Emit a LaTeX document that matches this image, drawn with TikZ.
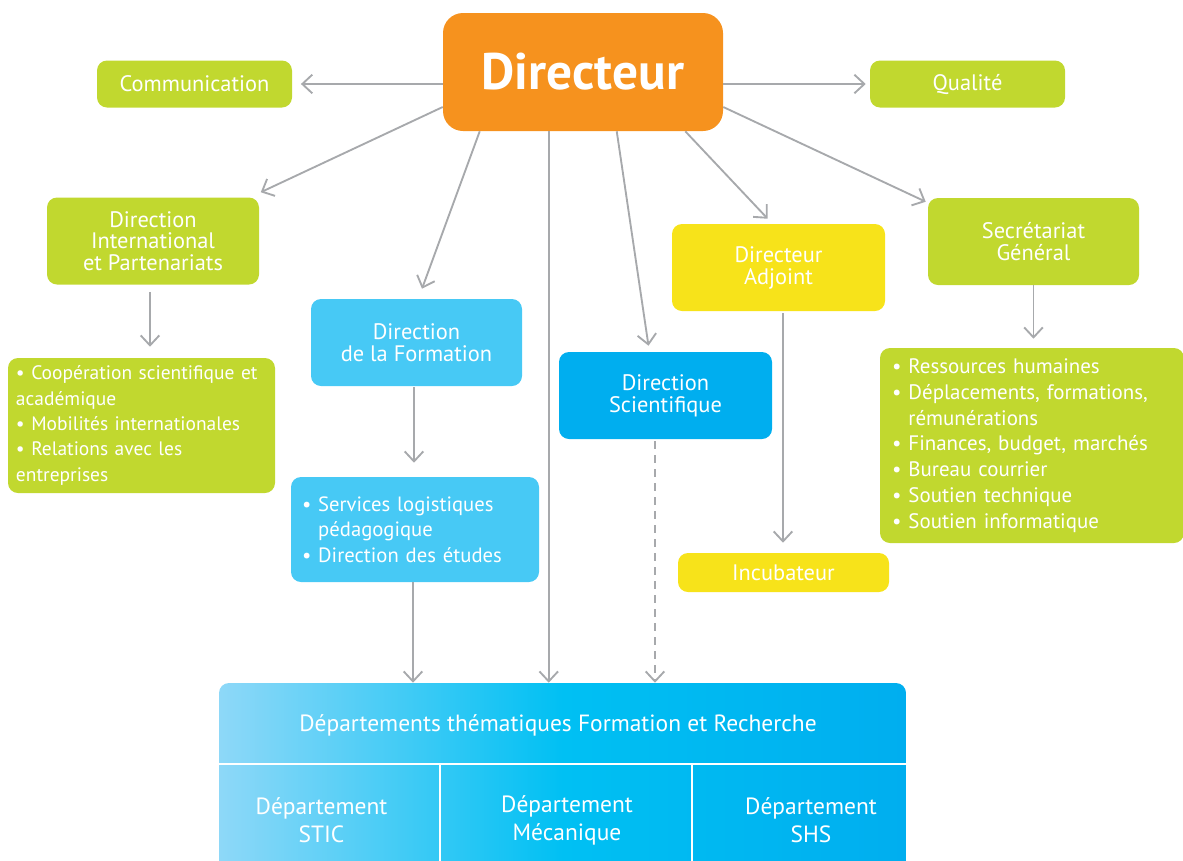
\documentclass[tikz,border=0pt]{standalone}
\usepackage{fontspec}
\setmainfont{PT Sans}
\usetikzlibrary{arrows.meta,calc}
\definecolor{cOrange}{HTML}{F6921E}
\definecolor{cGreen}{HTML}{C1D82F}
\definecolor{cLBlue}{HTML}{47C9F5}
\definecolor{cBlue}{HTML}{00AEEF}
\definecolor{cYellow}{HTML}{F7E31A}
\definecolor{cGray}{HTML}{A7A9AC}
\definecolor{cGradL}{HTML}{8ED8F8}
\definecolor{cGradM}{HTML}{00C0F3}
\begin{document}
\begin{tikzpicture}[x=0.75pt,y=-0.75pt,
  sz/.style 2 args={minimum width=#1*0.75pt, minimum height=#2*0.75pt},
  box/.style={rounded corners=7.5pt, inner sep=0pt, text=white, align=center,
    font=\fontsize{16.8}{16.5}\selectfont},
  gbox/.style={box, fill=cGreen},
  lbbox/.style={box, fill=cLBlue},
  bbox/.style={box, fill=cBlue},
  ybox/.style={box, fill=cYellow},
  listbox/.style={box, align=left, font=\fontsize{15.5}{19}\selectfont},
  txt/.style={text=white, inner sep=0pt, align=center, font=\fontsize{17.6}{16.5}\selectfont},
  arr/.style={draw=cGray, line width=1.4pt, -{Straight Barb[length=7.5pt,width=14pt,line width=1.4pt]}},
  divider/.style={draw=white, line width=1.6pt},
]
\useasboundingbox (0,0) rectangle (1183,861);

% ---------- boxes ----------
\node[box, fill=cOrange, rounded corners=15pt, sz={280}{118},
      font=\fontsize{38.5}{38}\selectfont\bfseries] (dir) at (583,72) {Directeur};
\node[gbox, sz={195}{47}] (comm) at (194.5,84) {Communication};
\node[gbox, sz={195}{47}] (qual) at (967.5,84) {Qualité};
\node[gbox, sz={212}{87}, font=\fontsize{16.8}{16}\selectfont] (intl) at (153,241)
  {Direction\\International\\et Partenariats};
\node[lbbox, sz={211}{87}] (form) at (416.5,342.5) {Direction\\de la Formation};
\node[bbox, sz={213}{87}] (sci) at (665.5,395.5) {Direction\\Scientifique};
\node[ybox, sz={213}{87}] (adj) at (778.5,267.5) {Directeur\\Adjoint};
\node[gbox, sz={211}{87}] (sec) at (1033.5,241.5) {Secrétariat\\Général};
\node[ybox, sz={211}{39}] (incub) at (783.5,572.5) {Incubateur};

\node[listbox, fill=cGreen, minimum height=135*0.75pt, inner xsep=6pt,
      text width=251*0.75pt, font=\fontsize{14.6}{19}\selectfont] (intllist) at (141.5,425.5)
  {\mbox{\textbullet\ Coopération scientifique et}\\académique\\\textbullet\ Mobilités internationales\\\textbullet\ Relations avec les\\entreprises};
\node[listbox, fill=cLBlue, minimum height=105*0.75pt, inner xsep=8.25pt,
      text width=226*0.75pt] (serv) at (415,529.5)
  {\textbullet\ Services logistiques\\\hphantom{\textbullet\ }pédagogique\\\textbullet\ Direction des études};
\node[listbox, fill=cGreen, minimum height=195*0.75pt, inner xsep=9pt,
      text width=280*0.75pt, font=\fontsize{15.7}{19.3}\selectfont] (seclist) at (1032,445.5)
  {\textbullet\ Ressources humaines\\\textbullet\ Déplacements, formations,\\\hphantom{\textbullet\ }rémunérations\\\textbullet\ Finances, budget, marchés\\\textbullet\ Bureau courrier\\\textbullet\ Soutien technique\\\textbullet\ Soutien informatique};

% ---------- departments block ----------
\node[rounded corners=7.5pt, inner sep=0pt, sz={687}{200},
      left color=cGradL, right color=cBlue, middle color=cGradM] (dept) at (562.5,783) {};
\draw[divider] ($(dept.north west)+(0,81)$) -- ($(dept.north east)+(0,81)$);
\draw[divider] ($(dept.north west)+(221,81)$) -- ($(dept.south west)+(221,0)$);
\draw[divider] ($(dept.north west)+(473,81)$) -- ($(dept.south west)+(473,0)$);
\node[txt] (depttitle) at (558,725) {Départements thématiques Formation et Recherche};
\node[txt, font=\fontsize{17.6}{21}\selectfont] (stic) at (321.5,820) {Département\\STIC};
\node[txt, font=\fontsize{17.6}{21}\selectfont] (meca) at (567,820) {Département\\Mécanique};
\node[txt, font=\fontsize{17.6}{21}\selectfont] (shs) at (811,820) {Département\\SHS};

% ---------- connectors ----------
\draw[arr] (dir.west |- comm.east) -- ([xshift=6.5pt]comm.east);
\draw[arr] (dir.east |- qual.west) -- ([xshift=-3pt]qual.west);
\draw[arr] ($(dir.west)+(0,35)$) -- ($(intl.north east)+(1.5,-5)$);
\draw[arr] ($(dir.south west)+(37,0)$) -- ($(form.north)+(5.5,-10)$);
\draw[arr] ($(dir.south west)+(106,0)$) -- ($(dept.north west)+(330,0)$);
\draw[arr] ($(dir.south west)+(174,0)$) -- ($(sci.north)+(-17,-6)$);
\draw[arr] ($(dir.south east)+(-38,0)$) -- ($(adj.north west)+(96,-5)$);
\draw[arr] ($(dir.east)+(0,35)$) -- ($(sec.north west)+(-2,4)$);
\draw[arr] ($(intl.south)+(-3,7)$) -- ($(intllist.north -| intl.south)+(-3,-11)$);
\draw[arr] ($(form.south)+(-2.5,1)$) -- ($(serv.north -| form.south)+(-2.5,-14)$);
\draw[arr] ($(serv.south)+(-2,0)$) -- ($(dept.north -| serv.south)+(-2,0)$);
\draw[arr, dash pattern=on 6pt off 4.5pt] ($(sci.south)+(-10.5,2)$) -- ($(dept.north -| sci.south)+(-10.5,0)$);
\draw[arr] ($(adj.south)+(4.5,2)$) -- ($(incub.north -| adj.south)+(4.5,-10)$);
\draw[arr] (sec.south) -- ($(seclist.north -| sec.south)+(0,-9)$);
\end{tikzpicture}
\end{document}
